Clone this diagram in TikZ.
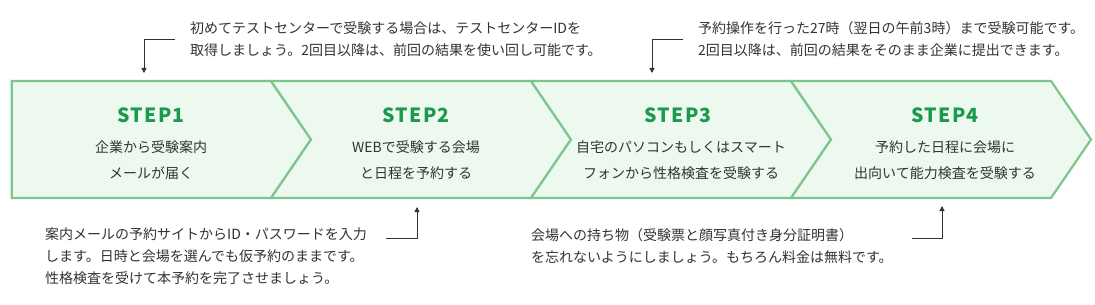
\documentclass[tikz,border=0pt]{standalone}
\usepackage{fontspec}
\setmainfont{Noto Sans CJK JP}
\usetikzlibrary{arrows.meta}
\definecolor{chevfill}{HTML}{EDF8EF}
\definecolor{chevline}{HTML}{7CC68E}
\definecolor{stepgreen}{HTML}{1A9A4B}
\definecolor{txt}{HTML}{333333}
\begin{document}
\begin{tikzpicture}[x=1pt,y=-1pt,
  chev/.style={fill=chevfill,draw=chevline,line width=2.2pt,line join=miter},
  steplabel/.style={text=stepgreen,font=\fontsize{19.5}{21}\selectfont\bfseries\addfontfeatures{LetterSpace=7},inner sep=0pt},
  desc/.style={text=txt,font=\fontsize{14}{26}\selectfont,align=center,inner sep=0pt},
  note/.style={text=txt,font=\fontsize{14}{22}\selectfont,align=left,inner sep=0pt,anchor=west},
  callout/.style={draw=txt,line width=1pt,-{Triangle[length=5pt,width=5pt]}}
]
\fill[white] (0,0) rectangle (1095,305);
\useasboundingbox (0,0) rectangle (1095,305);

% chevrons
\draw[chev] (11.7,81) -- (271,81) -- (311,139.5) -- (271,198) -- (11.7,198) -- cycle;
\foreach \L in {271,531,791}{
  \draw[chev] (\L,81) -- ({\L+260},81) -- ({\L+300},139.5) -- ({\L+260},198) -- (\L,198) -- ({\L+40},139.5) -- cycle;
}

% step labels
\node[steplabel] (s1) at (151,115) {STEP1};
\node[steplabel] (s2) at (416,115) {STEP2};
\node[steplabel] (s3) at (678,115) {STEP3};
\node[steplabel] (s4) at (945,115) {STEP4};

\node[desc] (d1) at (151,160) {企業から受験案内\\メールが届く};
\node[desc] (d2) at (416,160) {WEBで受験する会場\\と日程を予約する};
\node[desc] (d3) at (681,160) {自宅のパソコンもしくはスマート\\フォンから性格検査を受験する};
\node[desc] (d4) at (945,160) {予約した日程に会場に\\出向いて能力検査を受験する};

% notes
\node[note] (n1) at (190,39.3) {初めてテストセンターで受験する場合は、テストセンターIDを\\取得しましょう。2回目以降は、前回の結果を使い回し可能です。};
\node[note] (n2) at (698,39.3) {予約操作を行った27時（翌日の午前3時）まで受験可能です。\\2回目以降は、前回の結果をそのまま企業に提出できます。};
\node[note] (n3) at (45,256.5) {案内メールの予約サイトからID・パスワードを入力\\します。日時と会場を選んでも仮予約のままです。\\性格検査を受けて本予約を完了させましょう。};
\node[note] (n4) at (531,246) {会場への持ち物（受験票と顔写真付き身分証明書）\\を忘れないようにしましょう。もちろん料金は無料です。};

% callout connectors
\coordinate (a1s) at (175,40);  \coordinate (a1e) at (144,73);
\coordinate (a2s) at (386,238); \coordinate (a2e) at (417,207);
\coordinate (a3s) at (683,40);  \coordinate (a3e) at (652,73);
\coordinate (a4s) at (912,238); \coordinate (a4e) at (942,206);
\draw[callout] (a1s) -| (a1e);
\draw[callout] (a2s) -| (a2e);
\draw[callout] (a3s) -| (a3e);
\draw[callout] (a4s) -| (a4e);
\end{tikzpicture}
\end{document}
